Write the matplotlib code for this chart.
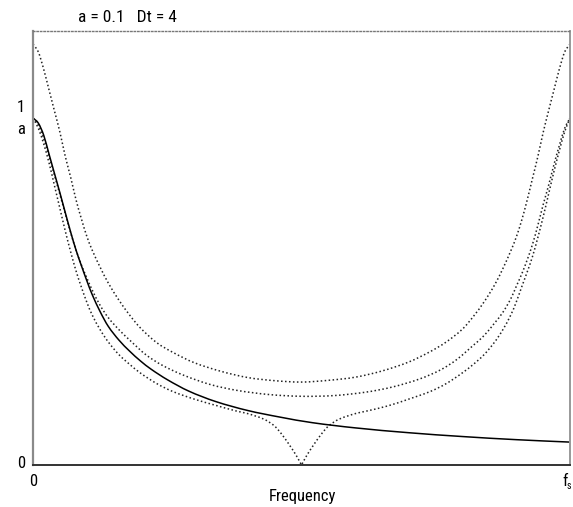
import matplotlib
matplotlib.use("Agg")
import matplotlib.pyplot as plt
from matplotlib import font_manager
from matplotlib.path import Path
from matplotlib.patches import PathPatch

# ---- data (normalised frequency f/fs, magnitude) ----
f_top = [0, 0.01, 0.02, 0.03, 0.04, 0.05, 0.06, 0.07, 0.08, 0.09, 0.10, 0.11, 0.125, 0.14,
         0.16, 0.18, 0.20, 0.23, 0.26, 0.30, 0.35, 0.40, 0.45, 0.50, 0.55, 0.60, 0.65, 0.70,
         0.74, 0.77, 0.80, 0.82, 0.84, 0.86, 0.875, 0.89, 0.90, 0.91, 0.92, 0.93, 0.94, 0.95,
         0.96, 0.97, 0.98, 0.99, 1.0]
v_top = [1.213, 1.19, 1.14, 1.08, 1.02, 0.96, 0.89, 0.83, 0.765, 0.71, 0.66, 0.62, 0.57, 0.525,
         0.475, 0.432, 0.395, 0.353, 0.325, 0.295, 0.27, 0.252, 0.243, 0.239, 0.244, 0.253,
         0.271, 0.297, 0.327, 0.355, 0.392, 0.428, 0.47, 0.52, 0.566, 0.618, 0.657, 0.705,
         0.762, 0.825, 0.888, 0.958, 1.02, 1.08, 1.14, 1.19, 1.213]

f_mid = [0, 0.01, 0.02, 0.03, 0.04, 0.05, 0.06, 0.07, 0.08, 0.09, 0.10, 0.11, 0.125, 0.14,
         0.16, 0.18, 0.21, 0.24, 0.28, 0.33, 0.38, 0.44, 0.50, 0.56, 0.62, 0.67, 0.72, 0.76,
         0.79, 0.82, 0.84, 0.86, 0.875, 0.89, 0.90, 0.91, 0.92, 0.93, 0.94, 0.95, 0.96, 0.97,
         0.98, 0.99, 1.0]
v_mid = [1.0, 0.98, 0.94, 0.89, 0.835, 0.78, 0.725, 0.67, 0.62, 0.577, 0.54, 0.505, 0.46, 0.425,
         0.39, 0.36, 0.318, 0.288, 0.259, 0.232, 0.215, 0.203, 0.198, 0.200, 0.210, 0.225,
         0.248, 0.275, 0.305, 0.345, 0.373, 0.41, 0.44, 0.48, 0.515, 0.55, 0.59, 0.635, 0.69,
         0.75, 0.805, 0.865, 0.92, 0.97, 1.0]

f_sol = [0, 0.01, 0.02, 0.03, 0.04, 0.05, 0.06, 0.07, 0.08, 0.09, 0.10, 0.11, 0.125, 0.14,
         0.16, 0.18, 0.20, 0.22, 0.25, 0.29, 0.34, 0.40, 0.46, 0.52, 0.60, 0.70, 0.80, 0.90, 1.0]
v_sol = [1.0, 0.985, 0.95, 0.895, 0.84, 0.785, 0.728, 0.672, 0.62, 0.575, 0.532, 0.492, 0.442,
         0.40, 0.36, 0.328, 0.30, 0.276, 0.246, 0.213, 0.183, 0.157, 0.138, 0.122, 0.107,
         0.093, 0.082, 0.073, 0.066]

f_low = [0, 0.01, 0.02, 0.03, 0.04, 0.05, 0.06, 0.07, 0.08, 0.09, 0.10, 0.11, 0.125, 0.14,
         0.16, 0.18, 0.20, 0.23, 0.26, 0.30, 0.34, 0.38, 0.40, 0.43, 0.45, 0.465, 0.48, 0.49,
         0.5, 0.51, 0.52, 0.535, 0.55, 0.57, 0.60, 0.62, 0.66, 0.70, 0.74, 0.77, 0.80, 0.82,
         0.84, 0.86, 0.875, 0.89, 0.90, 0.91, 0.92, 0.93, 0.94, 0.95, 0.96, 0.97, 0.98, 0.99,
         1.0]
v_low = [1.0, 0.97, 0.925, 0.87, 0.805, 0.74, 0.675, 0.615, 0.56, 0.513, 0.47, 0.433, 0.39,
         0.355, 0.318, 0.29, 0.265, 0.235, 0.212, 0.19, 0.172, 0.155, 0.148, 0.132, 0.112,
         0.085, 0.052, 0.028, 0.0, 0.028, 0.052, 0.085, 0.112, 0.132, 0.148, 0.155, 0.170,
         0.190, 0.212, 0.235, 0.266, 0.29, 0.318, 0.355, 0.39, 0.433, 0.47, 0.513, 0.555,
         0.60, 0.655, 0.715, 0.78, 0.845, 0.905, 0.96, 1.0]

title_text = "a = 0.1   Dt = 4"
x_label = "Frequency"

_avail = {f.name for f in font_manager.fontManager.ttflist}
FONT = [n for n in ["Liberation Sans Narrow", "DejaVu Sans Condensed", "Roboto Condensed",
                    "Liberation Sans", "DejaVu Sans"] if n in _avail] or ["DejaVu Sans"]
FONT_STRETCH = "condensed"

W, H = 573, 507
fig = plt.figure(figsize=(W / 100, H / 100), dpi=100)
ax = fig.add_axes([33 / W, 1 - 465 / H, (570 - 33) / W, (465 - 31) / H])
ax.set_xlim(0, 1)
ax.set_ylim(0, 1.2507)


def smooth_path(xs, ys, breaks=()):
    """Cubic Bezier path through every read point (sharp corner at break indices)."""
    n = len(xs)
    slopes = []
    for i in range(n):
        j0 = max(i - 1, 0)
        j1 = min(i + 1, n - 1)
        slopes.append((ys[j1] - ys[j0]) / (xs[j1] - xs[j0]))
    left_slope = {}
    for b in breaks:
        left_slope[b] = (ys[b] - ys[b - 1]) / (xs[b] - xs[b - 1])
        slopes[b] = (ys[b + 1] - ys[b]) / (xs[b + 1] - xs[b])
    verts = [(xs[0], ys[0])]
    codes = [Path.MOVETO]
    for i in range(n - 1):
        dx = xs[i + 1] - xs[i]
        m0 = slopes[i]
        m1 = left_slope.get(i + 1, slopes[i + 1])
        verts += [(xs[i] + dx / 3, ys[i] + m0 * dx / 3),
                  (xs[i + 1] - dx / 3, ys[i + 1] - m1 * dx / 3),
                  (xs[i + 1], ys[i + 1])]
        codes += [Path.CURVE4] * 3
    return Path(verts, codes)


dot = (0, (1, 1.6))
for xs, ys, br in [(f_top, v_top, ()), (f_mid, v_mid, ()),
                   (f_low, v_low, (f_low.index(0.5),))]:
    ax.add_patch(PathPatch(smooth_path(xs, ys, br), fill=False, edgecolor="#222222",
                           lw=1.1, linestyle=dot))
ax.add_patch(PathPatch(smooth_path(f_sol, v_sol), fill=False, edgecolor="black", lw=1.1))

ax.set_xticks([])
ax.set_yticks([])
ax.spines["left"].set_color("#8a8a8a")
ax.spines["left"].set_linewidth(1.6)
ax.spines["bottom"].set_color("#333333")
ax.spines["bottom"].set_linewidth(1.4)
ax.spines["top"].set_color("#777777")
ax.spines["top"].set_linewidth(1.0)
ax.spines["top"].set_linestyle((0, (1, 1.5)))
ax.spines["right"].set_color("#999999")
ax.spines["right"].set_linewidth(1.4)


def ftext(x, y, s, **kw):
    fig.text(x / W, 1 - y / H, s, family=FONT, stretch=FONT_STRETCH, **kw)


ftext(78, 17, title_text, fontsize=12.5, ha="left", va="center")
ftext(21, 108, "1", fontsize=12, ha="center", va="center")
ftext(21, 129, "a", fontsize=12, ha="center", va="center")
ftext(21, 463, "0", fontsize=12, ha="center", va="center")
ftext(33, 481, "0", fontsize=12, ha="center", va="center")
ftext(565, 481, "f", fontsize=12, ha="center", va="center")
ftext(569, 486, "s", fontsize=7, ha="center", va="center")
ftext(302, 497, x_label, fontsize=12, ha="center", va="center")

fig.savefig("out.png", dpi=100)
